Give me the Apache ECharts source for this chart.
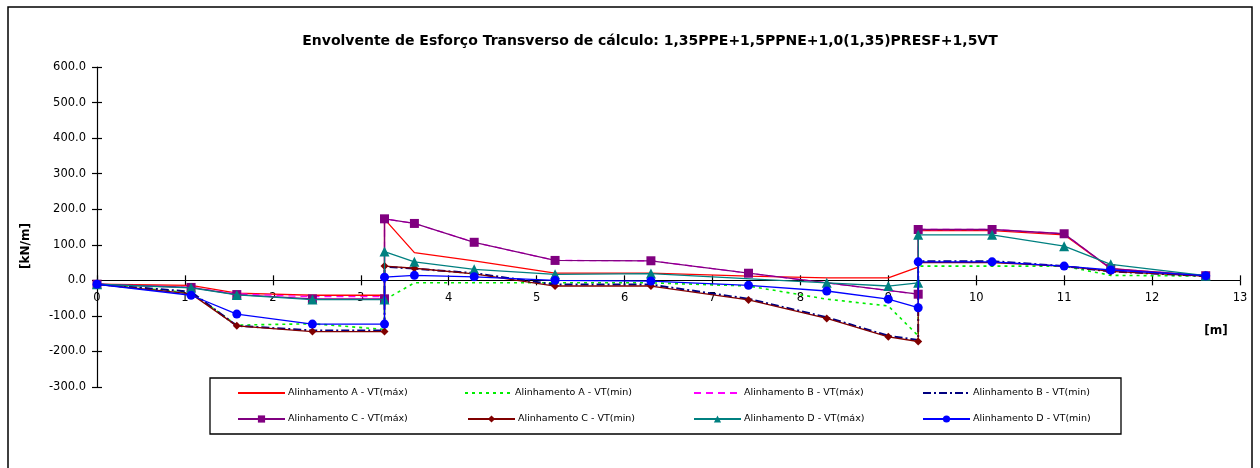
<!DOCTYPE html>
<html>
<head>
<meta charset="utf-8">
<script src="https://cdn.jsdelivr.net/npm/echarts@6/dist/echarts.min.js"></script>
<style>
html,body{margin:0;padding:0;background:#fff;}
#c{width:1260px;height:468px;}
</style>
</head>
<body>
<div id="c"></div>
<script>
// Section positions along the span [m] (jumps appear as repeated positions)
const xPos = [0, 1.07, 1.59, 2.45, 3.27, 3.27, 3.61, 4.29, 5.21, 6.30, 7.41, 8.30, 9.00, 9.34, 9.34, 10.18, 11.00, 11.53, 12.61];

const seriesNames = [
  'Alinhamento A - VT(máx)', 'Alinhamento A - VT(min)',
  'Alinhamento B - VT(máx)', 'Alinhamento B - VT(min)',
  'Alinhamento C - VT(máx)', 'Alinhamento C - VT(min)',
  'Alinhamento D - VT(máx)', 'Alinhamento D - VT(min)'
];

const aMax = [-11, -14, -36, -42, -42, 172, 78, 55, 20, 20, 12, 7, 7, 37, 140, 140, 128, 33, 12];
const aMin = [-11, -35, -126, -122, -138, -55, -7, -7, -7, -7, -16, -53, -72, -156, 40, 40, 40, 14, 12];
const bMax = [-11, -20, -38, -46, -46, 173, 160, 107, 56, 55, 20, null, null, -39, 143, 143, 131, 33, 13];
const bMin = [-11, -32, -128, -141, -141, 38, 33, 20, -12, -12, -52, -104, -156, -168, 54, 54, 40, 25, 12];
const cMax = [-11, -20, -40, -52, -52, 173, 160, 107, 56, 55, 20, null, null, -39, 143, 143, 131, 33, 13];
const cMin = [-11, -38, -128, -144, -144, 40, 34, 18, -16, -16, -55, -107, -159, -172, 50, 50, 40, 25, 12];
const dMax = [-11, -21, -41, -54, -54, 81, 52, 31, 17, 19, null, -7, -16, -7, 128, 128, 96, 45, 13];
const dMin = [-11, -42, -95, -123, -123, 9, 14, 10, 0, -2, -14, -30, -53, -77, 52, 52, 40, 29, 13];

const xTicks = [0, 13, 1];      // min, max, interval
const yTicks = [-300, 600, 100]; // min, max, interval

const FONT = 'DejaVu Sans, Verdana, sans-serif';

function pairs(vals) {
  return xPos.map((x, i) => [x, vals[i]]);
}

const styles = [
  {color: '#ff0000', type: 'solid', width: 1.3, symbol: 'none'},
  {color: '#00ee00', type: [3, 4], width: 1.6, symbol: 'none'},
  {color: '#ff00ff', type: [7, 5], width: 1.3, symbol: 'none'},
  {color: '#000080', type: [8, 3, 2, 3], width: 2, symbol: 'none'},
  {color: '#800080', type: 'solid', width: 1.3, symbol: 'rect', size: 9},
  {color: '#800000', type: 'solid', width: 1.3, symbol: 'diamond', size: 8},
  {color: '#008080', type: 'solid', width: 1.3, symbol: 'triangle', size: 10},
  {color: '#0000ff', type: 'solid', width: 1.3, symbol: 'circle', size: 9}
];
const allVals = [aMax, aMin, bMax, bMin, cMax, cMin, dMax, dMin];

const series = allVals.map((vals, i) => {
  const s = styles[i];
  return {
    name: seriesNames[i],
    type: 'line',
    xAxisIndex: 0,
    yAxisIndex: 0,
    data: pairs(vals),
    connectNulls: true,
    symbol: s.symbol,
    symbolSize: s.size || 0,
    showSymbol: s.symbol !== 'none',
    color: s.color,
    itemStyle: {color: s.color},
    lineStyle: {color: s.color, width: s.width, type: s.type},
    z: 3 + i * 0.01,
    emphasis: {disabled: true}
  };
});

const legendPos = [
  [237, 388], [464, 388], [693, 388], [922, 388],
  [237, 414], [467, 414], [693, 414], [922, 414]
];
const legends = seriesNames.map((n, i) => ({
  data: [styles[i].symbol === 'none'
    ? {name: n, itemStyle: {opacity: 0, color: 'rgba(0,0,0,0)', borderColor: 'rgba(0,0,0,0)'}}
    : {name: n}],
  left: legendPos[i][0],
  top: legendPos[i][1],
  itemWidth: 47,
  itemHeight: 9,
  itemGap: 0,
  padding: 0,
  selectedMode: false,
  textStyle: {fontSize: 9.5, fontFamily: FONT, color: '#000', padding: [0, 0, 0, -2]}
}));

// plot rectangle
const G = {left: 97, right: 20, top: 67, bottom: 81};
const plotH = 468 - G.top - G.bottom;
// pixel position of the value 0 inside the plot (used for an axis band ending at zero)
const zeroFromBottom = G.bottom + plotH * (0 - yTicks[0]) / (yTicks[1] - yTicks[0]);
const upperBand = {left: G.left, right: G.right, top: G.top, bottom: zeroFromBottom};

const hiddenY = (gi) => ({gridIndex: gi, type: 'value', min: 0, max: 1, show: false});

const chart = echarts.init(document.getElementById('c'), null, {renderer: 'canvas'});
chart.setOption({
  animation: false,
  backgroundColor: '#fff',
  title: {
    text: 'Envolvente de Esforço Transverso de cálculo: 1,35PPE+1,5PPNE+1,0(1,35)PRESF+1,5VT',
    left: 645, top: 29, textAlign: 'center',
    textStyle: {fontSize: 14, fontWeight: 'bold', fontFamily: FONT, color: '#000'}
  },
  grid: [
    Object.assign({containLabel: false}, G),
    Object.assign({containLabel: false}, G),
    Object.assign({containLabel: false}, upperBand),
    Object.assign({containLabel: false}, upperBand)
  ],
  legend: legends,
  xAxis: [{
    gridIndex: 0, show: false,
    type: 'value', min: xTicks[0], max: xTicks[1], interval: xTicks[2]
  }, {
    gridIndex: 1, show: false,
    type: 'value', min: xTicks[0], max: xTicks[1], interval: xTicks[2]
  }, {
    gridIndex: 2, position: 'bottom',
    type: 'value', min: xTicks[0], max: xTicks[1], interval: xTicks[2],
    axisLine: {show: true, onZero: false, lineStyle: {color: '#000', width: 1.2}},
    axisTick: {show: true, length: 5, lineStyle: {color: '#000', width: 1.2}},
    axisLabel: {fontSize: 11.5, fontFamily: FONT, color: '#000', margin: 12},
    splitLine: {show: false}
  }, {
    gridIndex: 3, position: 'bottom',
    type: 'value', min: xTicks[0], max: xTicks[1], interval: xTicks[2],
    axisLine: {show: false, onZero: false},
    axisTick: {show: true, inside: true, length: 5, lineStyle: {color: '#000', width: 1.2}},
    axisLabel: {show: false},
    splitLine: {show: false}
  }],
  yAxis: [{
    gridIndex: 0,
    type: 'value', min: yTicks[0], max: yTicks[1], interval: yTicks[2],
    axisLine: {show: true, onZero: false, lineStyle: {color: '#000', width: 1.2}},
    axisTick: {show: true, length: 5, lineStyle: {color: '#000', width: 1.2}},
    axisLabel: {fontSize: 11.5, fontFamily: FONT, color: '#000', margin: 11,
      formatter: v => v.toFixed(1)},
    splitLine: {show: false}
  }, {
    gridIndex: 1,
    type: 'value', min: yTicks[0], max: yTicks[1], interval: yTicks[2],
    axisLine: {show: false, onZero: false},
    axisTick: {show: true, inside: true, length: 5, lineStyle: {color: '#000', width: 1.2}},
    axisLabel: {show: false},
    splitLine: {show: false}
  }, hiddenY(2), hiddenY(3)],
  graphic: [
    {type: 'rect', shape: {x: 8, y: 7, width: 1244, height: 470},
     style: {fill: null, stroke: '#000', lineWidth: 1.5}, z: 0, silent: true},
    {type: 'rect', shape: {x: 210, y: 378, width: 911, height: 56},
     style: {fill: '#fff', stroke: '#000', lineWidth: 1.3}, z: 0, silent: true},
    {type: 'text', x: 1216, y: 331,
     style: {text: '[m]', fontSize: 12, fontWeight: 'bold', fontFamily: FONT, fill: '#000',
       textAlign: 'center', textVerticalAlign: 'middle'}, silent: true},
    {type: 'text', x: 26, y: 246, rotation: Math.PI / 2,
     style: {text: '[kN/m]', fontSize: 12, fontWeight: 'bold', fontFamily: FONT, fill: '#000',
       textAlign: 'center', textVerticalAlign: 'middle'}, silent: true}
  ],
  series: series
});
</script>
</body>
</html>
